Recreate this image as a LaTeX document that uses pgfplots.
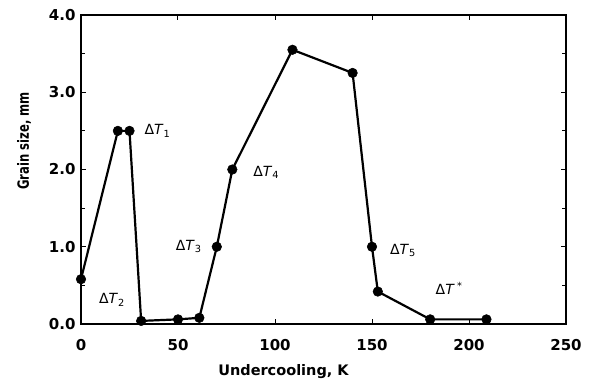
\documentclass[border=0pt]{standalone}
\usepackage{pgfplots}
\pgfplotsset{compat=1.18}
\usepackage{fontspec}
\setmainfont{DejaVu Sans}
\newfontfamily\tickfont{DejaVu Sans Bold}
\newfontfamily\ylabfont[FakeStretch=0.75]{DejaVu Sans Bold}
\begin{document}
\begin{tikzpicture}
\useasboundingbox (-81pt,-59pt) rectangle (511pt,324pt);
\begin{axis}[
  scale only axis,
  width=485pt, height=309pt,
  xmin=0, xmax=250, ymin=0, ymax=4,
  xtick={0,50,100,150,200,250},
  ytick={0,1,2,3,4},
  minor ytick={0.5,1.5,2.5,3.5},
  yticklabel style={xshift=-2pt, /pgf/number format/fixed, /pgf/number format/fixed zerofill, /pgf/number format/precision=1},
  /pgf/number format/assume math mode=true,
  tick align=inside,
  major tick length=5pt, minor tick length=4pt,
  axis line style={line width=1.2pt},
  every tick/.style={line width=1pt, black},
  ticklabel style={font=\tickfont\fontsize{15}{17}\selectfont},
  xticklabel style={yshift=-12pt},
  xlabel={Undercooling, K},
  ylabel={Grain size, mm},
  xlabel style={font=\tickfont\fontsize{14.5}{17}\selectfont, at={(axis description cs:0.4175,0)}, anchor=center, yshift=-48pt},
  ylabel style={font=\ylabfont\fontsize{15.5}{17}\selectfont, at={(axis description cs:-0.1175,0.592)}, anchor=center},
  clip=false,
]
\addplot[black, line width=2.2pt, mark=*, mark size=4.8pt, mark options={fill=black, line width=0.5pt}]
  coordinates {
    (0,0.58) (19,2.5) (25,2.5) (31,0.04) (50,0.06) (61,0.08)
    (70,1.0) (78,2.0) (109,3.55) (140,3.25) (150,1.0) (153,0.42)
    (180,0.06) (209,0.06)
  };
\begin{scope}[every node/.style={font=\fontsize{14}{16}\selectfont}]
\node[anchor=west] at (axis cs:31,2.5) {Δ\textit{T}\textsubscript{1}};
\node at (axis cs:16,0.31) {Δ\textit{T}\textsubscript{2}};
\node[anchor=east] at (axis cs:64,1.0) {Δ\textit{T}\textsubscript{3}};
\node[anchor=west] at (axis cs:87,1.96) {Δ\textit{T}\textsubscript{4}};
\node[anchor=west] at (axis cs:157.5,0.95) {Δ\textit{T}\textsubscript{5}};
\node[anchor=west] at (axis cs:181,0.46) {Δ\textit{T}\,\textsuperscript{*}};
\end{scope}
\end{axis}
\end{tikzpicture}
\end{document}
